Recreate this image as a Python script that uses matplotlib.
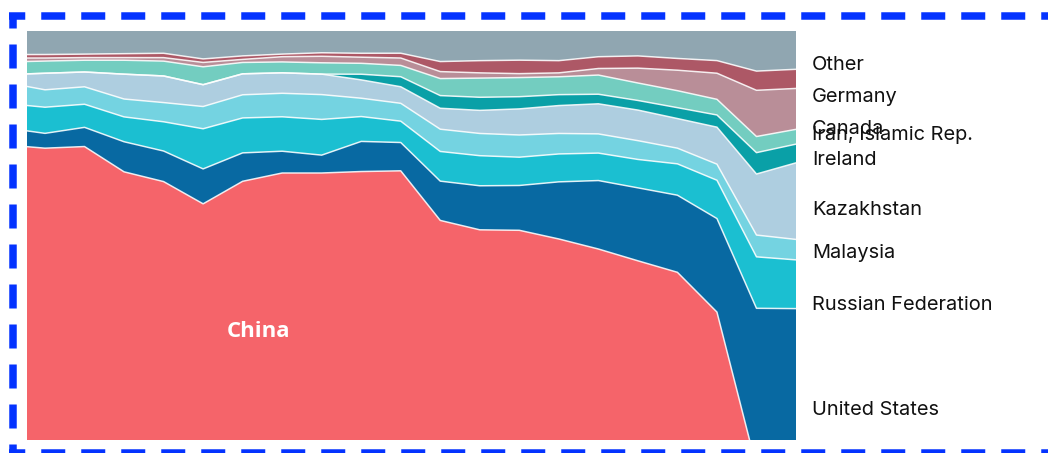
import numpy as np
import matplotlib
matplotlib.use("Agg")
import matplotlib.pyplot as plt
from matplotlib.lines import Line2D

# ---------------- data (share of total, %) ----------------
years = list(range(1996, 2017))
china      = [73.8, 73.2, 73.5, 67.7, 65.4, 60.3, 65.4, 67.5, 67.5, 67.7, 68.0, 56.5, 54.4, 54.4, 52.3, 50.0, 47.2, 44.7, 35.6, 0.0, 0.0]
us         = [3.9, 3.4, 4.4, 6.9, 7.0, 8.0, 6.5, 5.0, 4.1, 6.9, 6.5, 9.0, 10.1, 10.3, 13.1, 15.7, 16.7, 17.7, 21.5, 36.4, 36.4]
russia     = [5.6, 6.0, 5.3, 5.7, 6.7, 9.2, 8.0, 7.9, 8.2, 5.7, 4.9, 6.8, 6.9, 6.5, 6.4, 6.3, 6.5, 7.2, 8.8, 11.8, 11.2]
malaysia   = [4.8, 4.0, 4.0, 4.1, 4.4, 5.1, 5.3, 5.4, 5.7, 4.2, 4.1, 5.1, 5.1, 5.1, 4.7, 4.4, 4.3, 3.6, 3.7, 5.0, 4.7]
kazakhstan = [1.8, 3.8, 3.4, 5.7, 6.1, 5.0, 4.8, 4.7, 4.7, 4.2, 3.8, 4.8, 5.3, 6.0, 6.4, 6.9, 7.0, 6.8, 8.5, 14.0, 17.6]
ireland    = [0.0, 0.0, 0.0, 0.0, 0.0, 0.0, 0.0, 0.0, 0.0, 1.3, 2.3, 2.9, 3.0, 2.8, 2.5, 2.2, 2.2, 2.5, 2.8, 4.9, 4.3]
iran       = [2.9, 2.8, 2.7, 3.2, 3.4, 4.1, 2.6, 2.5, 2.6, 2.5, 2.6, 3.9, 4.4, 4.4, 4.1, 4.4, 4.0, 3.9, 3.6, 3.7, 3.4]
canada     = [0.9, 0.7, 0.6, 0.6, 0.8, 1.0, 0.7, 1.2, 1.5, 1.4, 1.7, 1.6, 1.2, 0.9, 0.9, 1.5, 3.4, 4.7, 6.0, 10.6, 9.4]
germany    = [0.8, 0.8, 0.8, 0.9, 1.0, 0.8, 0.8, 0.6, 0.8, 0.9, 1.1, 2.3, 2.8, 3.1, 2.8, 2.7, 2.8, 2.7, 2.9, 4.4, 4.4]
other      = [5.4, 5.4, 5.3, 5.2, 5.1, 6.4, 5.7, 5.3, 5.0, 5.1, 5.1, 7.0, 6.8, 6.7, 6.8, 5.9, 5.7, 6.3, 6.8, 9.2, 8.8]

series_names = ["China", "United States", "Russian Federation", "Malaysia", "Kazakhstan",
                "Ireland", "Iran, Islamic Rep.", "Canada", "Germany", "Other"]
series = [china, us, russia, malaysia, kazakhstan, ireland, iran, canada, germany, other]
colors = ["#f5646a", "#0869a2", "#1bbfd1", "#74d3e1", "#aecee0",
          "#0aa0a7", "#73cdc0", "#b98e98", "#ad5866", "#90a6b1"]

# right-hand labels (top to bottom) and their baselines in pixels
label_names = ["Other", "Germany", "Canada", "Iran, Islamic Rep.", "Ireland",
               "Kazakhstan", "Malaysia", "Russian Federation", "United States"]
label_baseline_px = [69.5, 102.5, 133.5, 140.5, 165, 215, 258.5, 310.5, 415]

# ---------------- figure ----------------
W, H = 1048, 453
fig = plt.figure(figsize=(W / 100, H / 100), dpi=100)
fig.patch.set_facecolor("white")

L, R, T, B = 27, 796, 31, 440
ax = fig.add_axes([L / W, (H - B) / H, (R - L) / W, (B - T) / H])

vals = np.array(series, dtype=float)
vals = vals / vals.sum(axis=0) * 100.0
cum = np.vstack([np.zeros(vals.shape[1]), np.cumsum(vals, axis=0)])
x = np.array(years, dtype=float)

for i, c in enumerate(colors):
    ax.fill_between(x, cum[i], cum[i + 1], facecolor=c, edgecolor="none", linewidth=0)
for i in range(1, len(series)):
    ax.plot(x, cum[i], color="white", lw=1.1, alpha=0.85, solid_joinstyle="round")

# visible window (the chart is cropped left and bottom)
ax.set_xlim(years[0] + 21.5 / 39.5, years[-1])
ax.set_ylim((467 - 440) / 436 * 100, 100)
ax.axis("off")

# ---------------- overlay in pixel space ----------------
ov = fig.add_axes([0, 0, 1, 1], zorder=5)
ov.set_xlim(0, W)
ov.set_ylim(H, 0)
ov.axis("off")
ov.patch.set_alpha(0)

for name, yb in zip(label_names, label_baseline_px):
    ov.text(812, yb, name, fontsize=14.4, family=["Inter", "DejaVu Sans"],
            color="#111111", ha="left", va="baseline")

ov.text(258, 331.5, "China", fontsize=16, family=["Open Sans", "DejaVu Sans"],
        fontweight="bold", color="white", ha="center", va="center")

# dashed blue frame
plt.rcParams["lines.scale_dashes"] = False
px = 0.72
blue = "#0433ff"
lw = 7.5 * px
dash = (24 * px, 16 * px)
ov.add_line(Line2D([8.75, 1060], [16.3, 16.3], color=blue, lw=lw,
                   linestyle=(7.75 * px, dash), dash_capstyle="butt"))
ov.add_line(Line2D([8.75, 1060], [452.5, 452.5], color=blue, lw=lw,
                   linestyle=(7.75 * px, dash), dash_capstyle="butt"))
ov.add_line(Line2D([12.5, 12.5], [12.55, 456], color=blue, lw=lw,
                   linestyle=(8.5 * px, dash), dash_capstyle="butt"))

fig.savefig("out.png", dpi=100, facecolor="white")
